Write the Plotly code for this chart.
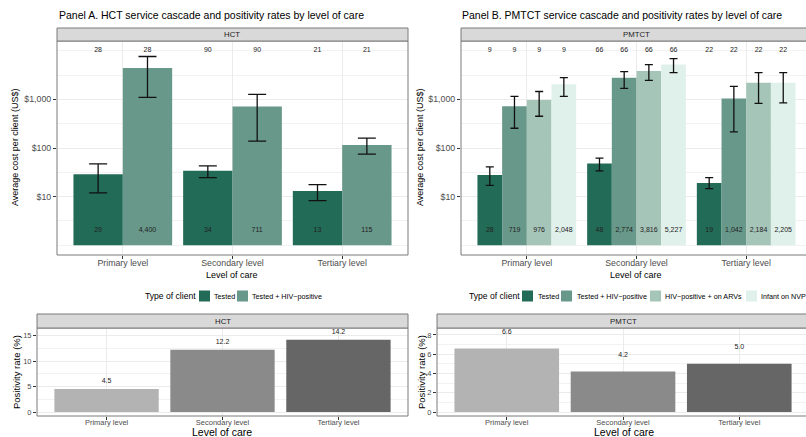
import plotly.graph_objects as go

W, H = 806, 437

levels = ["Primary level", "Secondary level", "Tertiary level"]

# Panel A (HCT) cost cascade
hct_types = ["Tested", "Tested + HIV−positive"]
hct_cost = {
    "Tested": [29, 34, 13],
    "Tested + HIV−positive": [4400, 711, 115],
}
hct_hi = {
    "Tested": [47, 43, 17.6],
    "Tested + HIV−positive": [7600, 1265, 160],
}
hct_lo = {
    "Tested": [12, 24.5, 8.3],
    "Tested + HIV−positive": [1100, 139, 75],
}
hct_n = [28, 90, 21]

# Panel B (PMTCT) cost cascade
pm_types = ["Tested", "Tested + HIV−positive", "HIV−positive + on ARVs", "Infant on NVP"]
pm_cost = {
    "Tested": [28, 48, 19],
    "Tested + HIV−positive": [719, 2774, 1042],
    "HIV−positive + on ARVs": [976, 3816, 2184],
    "Infant on NVP": [2048, 5227, 2205],
}
pm_hi = {
    "Tested": [41, 62, 24.5],
    "Tested + HIV−positive": [1150, 3730, 1850],
    "HIV−positive + on ARVs": [1450, 5200, 3550],
    "Infant on NVP": [2800, 6900, 3550],
}
pm_lo = {
    "Tested": [17, 34, 14.6],
    "Tested + HIV−positive": [255, 1680, 215],
    "HIV−positive + on ARVs": [450, 2450, 830],
    "Infant on NVP": [1150, 3550, 850],
}
pm_n = [9, 66, 22]

# Positivity rates
hct_pos = [4.5, 12.2, 14.2]
pm_pos = [6.6, 4.2, 5.0]

type_colors = {
    "Tested": "#226b56",
    "Tested + HIV−positive": "#68988a",
    "HIV−positive + on ARVs": "#a6c5b9",
    "Infant on NVP": "#e0f1eb",
}
level_greys = ["#b3b3b3", "#8a8a8a", "#666666"]

FONT = "Liberation Sans, Arial, sans-serif"
LABEL_Y = 2        # y where cost labels are printed inside bars
N_Y = 10000        # y where sample sizes are printed
BASE = 1           # log-scale bar base

def px_x(x):
    return x / W

def px_y(y):
    return 1 - y / H

fig = go.Figure()

def add_cascade(types, cost, hi, lo, nvals, xa, ya, capw):
    k = len(types)
    w = 0.9 / k
    for j, t in enumerate(types):
        xs = [i + (j - (k - 1) / 2) * w for i in range(len(levels))]
        vals = cost[t]
        fig.add_trace(go.Bar(
            x=xs, y=[v - BASE for v in vals], base=BASE, width=w,
            marker=dict(color=type_colors[t], line=dict(width=0)),
            error_y=dict(type="data", symmetric=False,
                         array=[h - v for h, v in zip(hi[t], vals)],
                         arrayminus=[v - l for l, v in zip(lo[t], vals)],
                         color="#111111", thickness=1.3, width=capw),
            xaxis=xa, yaxis=ya, showlegend=False, name=t,
        ))
        fig.add_trace(go.Scatter(
            x=xs, y=[LABEL_Y] * len(xs), mode="text",
            text=[f"{v:,}" for v in vals],
            textfont=dict(size=7, color="#222222", family=FONT),
            xaxis=xa, yaxis=ya, showlegend=False, hoverinfo="skip",
        ))
        fig.add_trace(go.Scatter(
            x=xs, y=[N_Y] * len(xs), mode="text",
            text=[str(n) for n in nvals],
            textfont=dict(size=7, color="#222222", family=FONT),
            xaxis=xa, yaxis=ya, showlegend=False, hoverinfo="skip",
        ))

add_cascade(hct_types, hct_cost, hct_hi, hct_lo, hct_n, "x", "y", 9)
add_cascade(pm_types, pm_cost, pm_hi, pm_lo, pm_n, "x2", "y2", 4)

def add_pos(vals, xa, ya, off):
    xs = list(range(len(levels)))
    fig.add_trace(go.Bar(
        x=xs, y=vals, width=0.9,
        marker=dict(color=level_greys, line=dict(width=0)),
        xaxis=xa, yaxis=ya, showlegend=False,
    ))
    fig.add_trace(go.Scatter(
        x=xs, y=[v + off for v in vals], mode="text",
        text=[f"{v:.1f}" for v in vals],
        textfont=dict(size=7, color="#222222", family=FONT),
        xaxis=xa, yaxis=ya, showlegend=False, hoverinfo="skip",
    ))

add_pos(hct_pos, "x3", "y3", 1.5)
add_pos(pm_pos, "x4", "y4", 1.7)

GRID = "#ebebeb"
tickfont = dict(size=8.8, color="#4d4d4d", family=FONT)
tickfont_s = dict(size=7.5, color="#4d4d4d", family=FONT)

top_dom = [px_y(255), px_y(41)]
bot_dom = [px_y(416), px_y(328)]

def xaxis_cfg(dom, rng, tf, standoff):
    return dict(domain=dom, range=rng, tickvals=[0, 1, 2], ticktext=levels,
                showgrid=True, gridcolor=GRID, gridwidth=1, zeroline=False,
                ticks="outside", ticklen=3, tickcolor="#333333", tickfont=tf,
                ticklabelstandoff=standoff,
                showline=False, fixedrange=True)

log_minor = [10 ** (e / 2) for e in range(0, 9)]

def ylog_cfg(dom, anchor):
    return dict(domain=dom, type="log", range=[-0.2, 4.2], anchor=anchor,
                tickvals=[10, 100, 1000], ticktext=["$10", "$100", "$1,000"],
                showgrid=True, gridcolor=GRID, gridwidth=1, zeroline=False,
                ticks="outside", ticklen=3, tickcolor="#333333", tickfont=tickfont,
                minor=dict(tickvals=log_minor, showgrid=True, gridcolor="#f2f2f2",
                           gridwidth=0.6, ticks=""),
                showline=False)

def ylin_cfg(dom, anchor, rng, tv, mv):
    return dict(domain=dom, range=rng, anchor=anchor, tickvals=tv,
                showgrid=True, gridcolor=GRID, gridwidth=1, zeroline=False,
                ticks="outside", ticklen=3, tickcolor="#333333", tickfont=tickfont_s,
                minor=dict(tickvals=mv, showgrid=True, gridcolor="#f2f2f2",
                           gridwidth=0.6, ticks=""),
                showline=False)

fig.update_layout(
    width=W, height=H, margin=dict(l=0, r=0, t=0, b=0),
    paper_bgcolor="white", plot_bgcolor="white",
    barmode="overlay", showlegend=False,
    font=dict(family=FONT),
    xaxis=dict(xaxis_cfg([px_x(57), px_x(408)], [-0.6, 2.6], tickfont, -4), anchor="y"),
    yaxis=ylog_cfg(top_dom, "x"),
    xaxis2=dict(xaxis_cfg([px_x(461), 1], [-0.6, 2.545], tickfont, -4), anchor="y2"),
    yaxis2=ylog_cfg(top_dom, "x2"),
    xaxis3=dict(xaxis_cfg([px_x(37), px_x(408)], [-0.6, 2.6], tickfont_s, -4), anchor="y3"),
    yaxis3=ylin_cfg(bot_dom, "x3", [-0.785, 16.485], [0, 5, 10, 15], [2.5, 7.5, 12.5]),
    xaxis4=dict(xaxis_cfg([px_x(437), 1], [-0.6, 2.574], tickfont_s, -4), anchor="y4"),
    yaxis4=ylin_cfg(bot_dom, "x4", [-0.415, 8.715], [0, 2, 4, 6, 8], [1, 3, 5, 7]),
)

shapes = []
annos = []
BORDER = "#7a7a7a"

def panel(x0, x1, ytop, ybot, strip_top, label):
    shapes.append(dict(type="rect", xref="paper", yref="paper",
                       x0=px_x(x0), x1=px_x(x1), y0=px_y(ybot), y1=px_y(ytop),
                       line=dict(color=BORDER, width=1), fillcolor="rgba(0,0,0,0)", layer="above"))
    shapes.append(dict(type="rect", xref="paper", yref="paper",
                       x0=px_x(x0), x1=px_x(x1), y0=px_y(ytop), y1=px_y(strip_top),
                       line=dict(color=BORDER, width=1), fillcolor="#d9d9d9", layer="above"))
    annos.append(dict(text=label, xref="paper", yref="paper",
                      x=px_x((x0 + x1) / 2),
                      y=px_y((ytop + strip_top) / 2), showarrow=False,
                      font=dict(size=7.8, color="#1a1a1a", family=FONT),
                      xanchor="center", yanchor="middle"))

panel(57, 408, 41, 255, 28, "HCT")
panel(461, 812, 41, 255, 28, "PMTCT")
panel(37, 408, 328, 416, 314, "HCT")
panel(437, 809, 328, 416, 314, "PMTCT")

def text(t, x, y, size, color="#000000", xanchor="center", angle=0):
    annos.append(dict(text=t, xref="paper", yref="paper", x=px_x(x), y=px_y(y),
                      showarrow=False, textangle=angle,
                      font=dict(size=size, color=color, family=FONT),
                      xanchor=xanchor, yanchor="middle"))

text("Panel A. HCT service cascade and positivity rates by level of care", 57, 15, 10.5, xanchor="left")
text("Panel B. PMTCT service cascade and positivity rates by level of care", 460, 15, 10.5, xanchor="left")
text("Average cost per client (US$)", 15, 148, 9, angle=-90)
text("Average cost per client (US$)", 420, 148, 9, angle=-90)
text("Level of care", 232, 275, 9)
text("Level of care", 636, 275, 9)
text("Positivity rate (%)", 16, 372, 9.5, angle=-90)
text("Positivity rate (%)", 421, 372, 9.5, angle=-90)
text("Level of care", 222, 432, 10.5)
text("Level of care", 624, 432, 10.5)

def legend(start_x, types, cy, key_xs, label_xs):
    text("Type of client", start_x, cy, 8.6, xanchor="left")
    for t, kx, lx in zip(types, key_xs, label_xs):
        shapes.append(dict(type="rect", xref="paper", yref="paper",
                           x0=px_x(kx), x1=px_x(kx + 11), y0=px_y(cy + 5.5), y1=px_y(cy - 5.5),
                           line=dict(width=0), fillcolor=type_colors[t]))
        text(t, lx, cy, 7.2, xanchor="left")

legend(143, hct_types, 296, [199, 237], [212, 250])
legend(467, pm_types, 296, [522, 561, 650, 746], [536, 575, 663, 759])

fig.update_layout(shapes=shapes, annotations=annos)

fig.write_html("out.html")
